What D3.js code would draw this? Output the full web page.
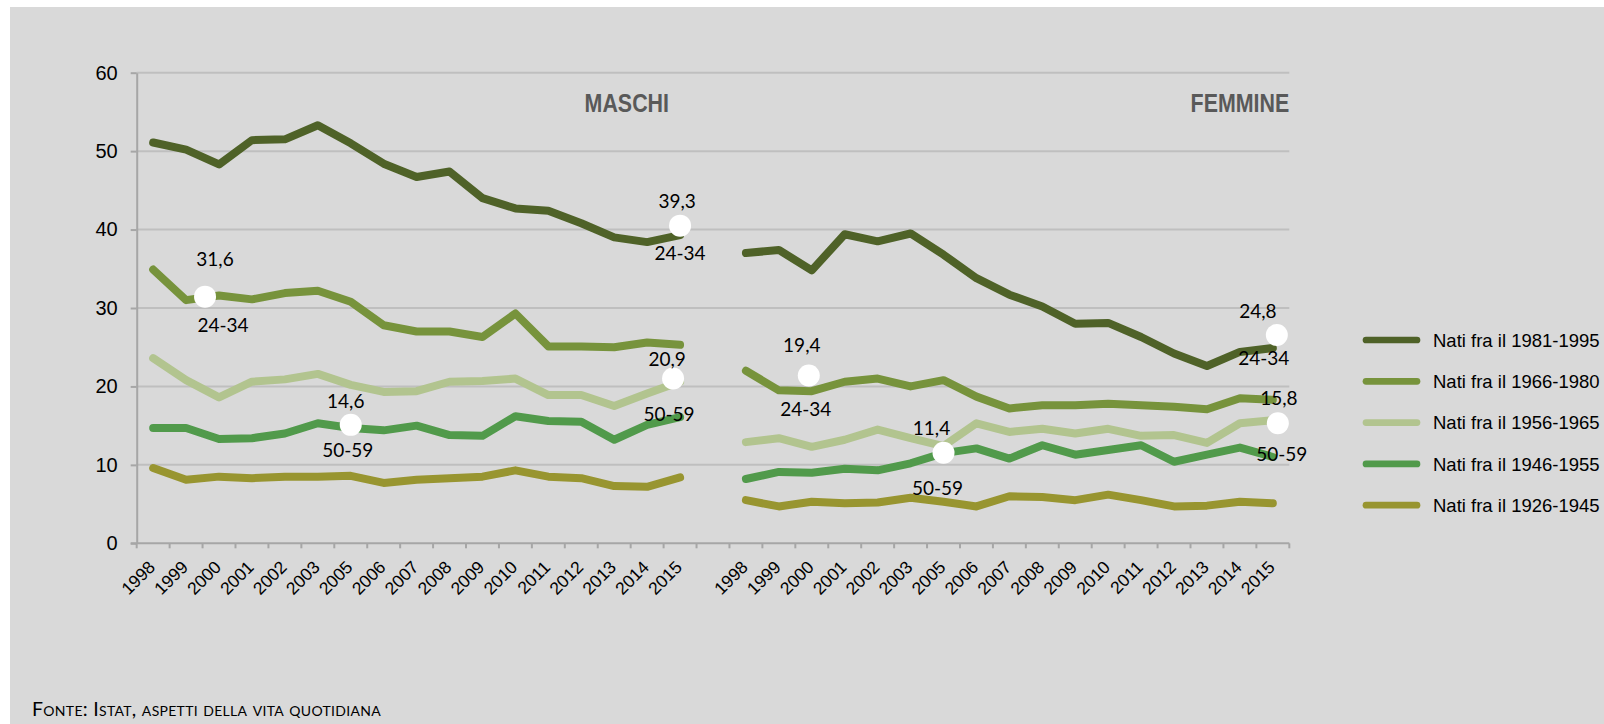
<!DOCTYPE html>
<html>
<head>
<meta charset="utf-8">
<script src="https://cdn.jsdelivr.net/npm/d3@7/dist/d3.min.js"></script>
<style>
  html, body { margin: 0; padding: 0; background: #ffffff; }
  svg { display: block; }
</style>
</head>
<body>
<svg id="chart" width="1604" height="724"></svg>
<script>
// ---------------- DATA ----------------
const years = ["1998","1999","2000","2001","2002","2003","2005","2006","2007","2008","2009","2010","2011","2012","2013","2014","2015"];
const seriesNames = ["Nati fra il 1981-1995","Nati fra il 1966-1980","Nati fra il 1956-1965","Nati fra il 1946-1955","Nati fra il 1926-1945"];
const panelTitles = ["MASCHI","FEMMINE"];
const yTicks = [0,10,20,30,40,50,60];

const maschi1981_1995 = [51.1,50.2,48.3,51.4,51.5,53.3,51.0,48.4,46.7,47.4,44.0,42.7,42.4,40.8,39.0,38.4,39.3];
const maschi1966_1980 = [34.9,31.0,31.6,31.1,31.9,32.2,30.8,27.8,27.0,27.0,26.3,29.3,25.1,25.1,25.0,25.6,25.3];
const maschi1956_1965 = [23.6,20.8,18.6,20.6,20.9,21.6,20.2,19.3,19.4,20.6,20.7,21.0,18.9,18.9,17.5,19.1,20.6];
const maschi1946_1955 = [14.7,14.7,13.3,13.4,14.0,15.3,14.7,14.4,15.0,13.8,13.7,16.2,15.6,15.5,13.2,15.1,16.1];
const maschi1926_1945 = [9.6,8.1,8.5,8.3,8.5,8.5,8.6,7.7,8.1,8.3,8.5,9.3,8.5,8.3,7.3,7.2,8.4];

const femmine1981_1995 = [37.0,37.4,34.8,39.4,38.5,39.5,36.8,33.8,31.7,30.2,28.0,28.1,26.3,24.2,22.6,24.4,24.9];
const femmine1966_1980 = [22.0,19.5,19.4,20.6,21.0,20.0,20.8,18.7,17.2,17.6,17.6,17.8,17.6,17.4,17.1,18.5,18.3];
const femmine1956_1965 = [12.9,13.4,12.3,13.2,14.5,13.4,12.4,15.3,14.2,14.6,14.0,14.6,13.7,13.8,12.8,15.3,15.7];
const femmine1946_1955 = [8.2,9.1,9.0,9.5,9.3,10.2,11.5,12.1,10.8,12.5,11.3,11.9,12.5,10.4,11.3,12.2,11.0];
const femmine1926_1945 = [5.5,4.7,5.3,5.1,5.2,5.8,5.3,4.7,6.0,5.9,5.5,6.2,5.5,4.7,4.8,5.3,5.1];

// annotation markers (white dots with value and age-class labels)
const annotSide   = ["M","M","M","M","F","F","F","F"];
const annotYear   = ["2015","2000","2015","2005","2015","2000","2015","2005"];
const annotValue  = [40.5,31.45,21.0,15.1,26.55,21.4,15.3,11.55];
const annotTop    = ["39,3","31,6","20,9","14,6","24,8","19,4","15,8","11,4"];
const annotBottom = ["24-34","24-34","50-59","50-59","24-34","24-34","50-59","50-59"];

// ---------------- STYLE / LAYOUT ----------------
const colors = ["#4f6228","#77933c","#b2c48f","#519a4b","#989530"];
const maschi = [maschi1981_1995,maschi1966_1980,maschi1956_1965,maschi1946_1955,maschi1926_1945];
const femmine = [femmine1981_1995,femmine1966_1980,femmine1956_1965,femmine1946_1955,femmine1926_1945];
const annotDotDx    = [0,-14,-7,0,4,-3,5,0];
const annotTopDx    = [-3,-4,-13,-5,-15,-10,6,-12];
const annotTopDy    = [-18,-31,-13,-17,-17,-23,-18,-18];
const annotBottomDx = [0,4,-11,-3,-9,-6,9,-6];
const annotBottomDy = [34,35,42,32,30,41,38,42];

const SANS = "'Liberation Sans', Arial, sans-serif";
const W = 1604, H = 724;
const plot = { left: 136.7, right: 1289.3, top: 72.7, bottom: 543.3 };
const svg = d3.select("#chart");

// background panel
svg.append("rect").attr("x",10).attr("y",7).attr("width",W-10).attr("height",H-7).attr("fill","#d9d9d9");

const catKeys = [...years.map(y=>"M"+y), "gap", ...years.map(y=>"F"+y)];
const x = d3.scaleBand().domain(catKeys).range([plot.left, plot.right]).padding(0);
const cx = k => x(k) + x.bandwidth()/2;
const y = d3.scaleLinear().domain([0,60]).range([plot.bottom, plot.top]);

// gridlines
svg.append("g").selectAll("line").data(yTicks.filter(t=>t>0)).join("line")
  .attr("x1",plot.left).attr("x2",plot.right)
  .attr("y1",d=>y(d)).attr("y2",d=>y(d))
  .attr("stroke","#bfbfbf").attr("stroke-width",2);

// y axis
const yAxis = svg.append("g").attr("transform",`translate(${plot.left},0)`)
  .call(d3.axisLeft(y).tickValues(yTicks).tickSize(6).tickSizeOuter(0).tickPadding(13));
yAxis.select(".domain").attr("stroke","#a6a6a6").attr("stroke-width",2);
yAxis.selectAll(".tick line").attr("stroke","#a6a6a6").attr("stroke-width",2);
yAxis.selectAll("text").attr("font-family",SANS)
  .attr("font-size","20px").attr("fill","#000");

// x axis: boundary ticks
const boundaries = catKeys.map(k=>x(k)).concat([plot.right]);
svg.append("g").selectAll("line").data(boundaries).join("line")
  .attr("x1",d=>d).attr("x2",d=>d).attr("y1",plot.bottom).attr("y2",plot.bottom+5)
  .attr("stroke","#a6a6a6").attr("stroke-width",2);
svg.append("line").attr("x1",plot.left-6).attr("x2",plot.right)
  .attr("y1",plot.bottom).attr("y2",plot.bottom)
  .attr("stroke","#a6a6a6").attr("stroke-width",2);

const xAxis = svg.append("g").attr("transform",`translate(0,${plot.bottom})`)
  .call(d3.axisBottom(x).tickSize(0).tickFormat(k => k==="gap" ? "" : k.slice(1)));
xAxis.select(".domain").remove();
xAxis.selectAll("text")
  .attr("font-family",SANS).attr("font-size","17.5px").attr("fill","#000")
  .attr("text-anchor","end").attr("x",0).attr("y",0).attr("dy",0)
  .attr("transform","translate(3,25) rotate(-45)");

// lines
const line = d3.line().x(d=>d[0]).y(d=>d[1]);
[["M",maschi],["F",femmine]].forEach(([side, arr]) => {
  arr.forEach((vals, i) => {
    const pts = years.map((yr, j) => [cx(side+yr), y(vals[j])]);
    svg.append("path").attr("d", line(pts)).attr("fill","none")
      .attr("stroke", colors[i]).attr("stroke-width",8)
      .attr("stroke-linejoin","round").attr("stroke-linecap","round");
  });
});

// panel titles (condensed bold)
const titleX = [669, plot.right];
panelTitles.forEach((t,i) => {
  svg.append("text").text(t)
    .attr("transform",`translate(${titleX[i]},112) scale(0.84,1)`)
    .attr("text-anchor","end")
    .attr("font-family",SANS)
    .attr("font-weight","bold").attr("font-size","25.5px").attr("fill","#595959");
});

// annotations
annotSide.forEach((s,i) => {
  const k = s + annotYear[i];
  const px = cx(k), py = y(annotValue[i]);
  svg.append("circle").attr("cx", px + annotDotDx[i]).attr("cy", py).attr("r", 11).attr("fill","#ffffff");
  svg.append("text").text(annotTop[i]).attr("x", px + annotTopDx[i]).attr("y", py + annotTopDy[i])
    .attr("text-anchor","middle").attr("font-family","Lato, 'Noto Sans', sans-serif")
    .attr("font-size","19px").attr("fill","#000");
  svg.append("text").text(annotBottom[i]).attr("x", px + annotBottomDx[i]).attr("y", py + annotBottomDy[i])
    .attr("text-anchor","middle").attr("font-family","Lato, 'Noto Sans', sans-serif")
    .attr("font-size","19px").attr("fill","#000");
});

// legend
const legend = svg.append("g");
seriesNames.forEach((n,i) => {
  const ly = 340 + i*41.3;
  legend.append("line").attr("x1",1366).attr("x2",1417).attr("y1",ly).attr("y2",ly)
    .attr("stroke",colors[i]).attr("stroke-width",6.7).attr("stroke-linecap","round");
  legend.append("text").text(n).attr("x",1433).attr("y",ly).attr("dy","0.36em")
    .attr("font-family",SANS).attr("font-size","18.5px").attr("fill","#000");
});

// footer
svg.append("text").text("Fonte: Istat, aspetti della vita quotidiana")
  .attr("x",32).attr("y",716)
  .attr("font-family","Lato, 'Noto Sans', sans-serif").attr("font-size","19.5px")
  .attr("letter-spacing","0.3px")
  .style("font-variant","small-caps").attr("fill","#000");
</script>
</body>
</html>
